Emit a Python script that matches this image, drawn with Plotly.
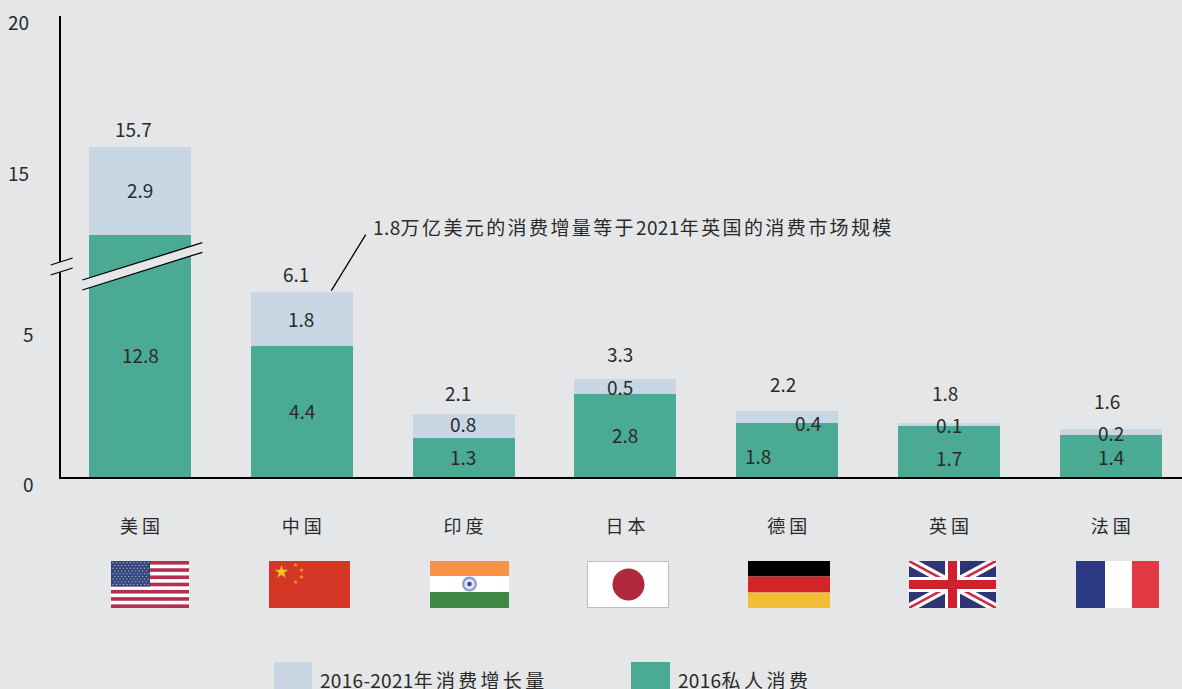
import base64
import math
import re
import plotly.graph_objects as go

# data
paises = ["美国", "中国", "印度", "日本", "德国", "英国", "法国"]
consumo_2016 = [12.8, 4.4, 1.3, 2.8, 1.8, 1.7, 1.4]
incremento = [2.9, 1.8, 0.8, 0.5, 0.4, 0.1, 0.2]
totales = [15.7, 6.1, 2.1, 3.3, 2.2, 1.8, 1.6]
ticks_abajo = [0, 5]
ticks_arriba = [15, 20]

nota = "1.8万亿美元的消费增量等于2021年英国的消费市场规模"
serie_inc = "2016-2021年消费增长量"
serie_base = "2016私人消费"

# pixel nudges of the value labels, the source places them by hand
shift_base = [(0, -68), (0, 1), (-1, 1), (0, 1), (-29, -5), (0, -6), (0, 0)]
shift_inc = [(0, 1), (-1, 1), (-1, 3), (-5, 0), (21, -5), (0, 0), (0, 0)]
shift_total = [(-7, 18), (-6, 19), (-6, 22), (-5, 25), (-4, 28), (-4, 31), (-4, 29)]
# y tick labels sit under their real position in the source: right edge, yshift
pos_tick = {0: (36, -6), 5: (36, -5), 15: (31, -4), 20: (31, -5)}

W, H = 1182, 689
FONDO = "#e5e6e8"
VERDE = "#4aaa93"
AZUL = "#c9d7e4"
TEXTO = "#2a2a2a"
FUENTE = "Noto Sans CJK SC"


def fx(px):
    return px / W


def fy(px):
    return 1 - px / H


def espaciar(texto, cjk, latin=0):
    # the source tracks han characters wider than digits
    partes = re.findall(r"[0-9.\-]+|[^0-9.\-]+", texto)
    salida = ""
    for p in partes:
        ls = latin if re.match(r"[0-9.\-]", p) else cjk
        salida += f'<span style="letter-spacing:{ls}px">{p}</span>'
    return salida


# ---- flags, small inline svgs ----
def svg(w, h, cuerpo):
    s = f'<svg xmlns="http://www.w3.org/2000/svg" viewBox="0 0 {w} {h}" preserveAspectRatio="none">{cuerpo}</svg>'
    return "data:image/svg+xml;base64," + base64.b64encode(s.encode()).decode()


def estrella(cx, cy, r, color):
    pts = []
    for i in range(10):
        rad = r if i % 2 == 0 else r * 0.4
        a = -math.pi / 2 + i * math.pi / 5
        pts.append(f"{cx + rad * math.cos(a):.2f},{cy + rad * math.sin(a):.2f}")
    return f'<polygon points="{" ".join(pts)}" fill="{color}"/>'


def bandera_usa():
    c = '<rect width="78" height="46" fill="#fff"/>'
    for i in range(0, 13, 2):
        c += f'<rect y="{i * 46 / 13:.2f}" width="78" height="{46 / 13:.2f}" fill="#b5304f"/>'
    c += '<rect width="39" height="25" fill="#34457c"/>'
    for f in range(9):
        for k in range(11 if f % 2 == 0 else 10):
            xx = 2 + k * 3.5 + (0 if f % 2 == 0 else 1.75)
            c += f'<circle cx="{xx}" cy="{1.8 + f * 2.65:.2f}" r="0.7" fill="#a9b0cc"/>'
    return svg(78, 46, c)


def bandera_china():
    c = '<rect width="81" height="47" fill="#d53727"/>'
    c += estrella(12.5, 11, 7, "#f6c52c")
    for xx, yy in [(26.7, 4), (32.5, 9), (32.5, 16), (26.7, 21)]:
        c += estrella(xx, yy, 2.4, "#f0a92a")
    return svg(81, 47, c)


def bandera_india():
    c = '<rect width="79" height="47" fill="#fff"/>'
    c += '<rect width="79" height="15" fill="#f99446"/>'
    c += '<rect y="31" width="79" height="16" fill="#3e8846"/>'
    c += '<circle cx="39.5" cy="23" r="7.5" fill="#8f9bd0"/><circle cx="39.5" cy="23" r="5.2" fill="#dfe2f0"/>'
    c += '<circle cx="39.5" cy="23" r="2.3" fill="#3f4a9c"/>'
    return svg(79, 47, c)


def bandera_japon():
    c = '<rect width="82" height="47" fill="#bdbdbd"/><rect x="1" y="1" width="80" height="45" fill="#fff"/>'
    c += '<circle cx="41.5" cy="23.5" r="16" fill="#b0283c"/>'
    return svg(82, 47, c)


def bandera_alemania():
    c = '<rect width="82" height="15.5" fill="#000"/>'
    c += '<rect y="15.5" width="82" height="16" fill="#d32527"/>'
    c += '<rect y="31.5" width="82" height="15.5" fill="#f3be37"/>'
    return svg(82, 47, c)


def bandera_uk():
    c = '<rect width="87" height="47" fill="#2e3474"/>'
    c += '<path d="M0 0L87 47M87 0L0 47" stroke="#fff" stroke-width="9"/>'
    c += '<path d="M0 0L87 47M87 0L0 47" stroke="#cf2a44" stroke-width="2.5"/>'
    c += '<path d="M43.5 0V47M0 23.5H87" stroke="#fff" stroke-width="15"/>'
    c += '<path d="M43.5 0V47M0 23.5H87" stroke="#d0212f" stroke-width="9"/>'
    return svg(87, 47, c)


def bandera_francia():
    c = '<rect width="83" height="47" fill="#fff"/>'
    c += '<rect width="29" height="47" fill="#2c3a84"/>'
    c += '<rect x="56" width="27" height="47" fill="#e23a45"/>'
    return svg(83, 47, c)


banderas = [
    (bandera_usa(), 111, 78),
    (bandera_china(), 269, 81),
    (bandera_india(), 430, 79),
    (bandera_japon(), 587, 82),
    (bandera_alemania(), 748, 82),
    (bandera_uk(), 909, 87),
    (bandera_francia(), 1076, 83),
]

# ---- figure ----
fig = go.Figure()

# the broken axis is two y axes on one x axis, the US bar runs through both
for eje in ["y", "y2"]:
    fig.add_trace(go.Bar(x=paises, y=consumo_2016, name=serie_base, marker_color=VERDE,
                         marker_line_width=0, yaxis=eje, xaxis="x"))
    fig.add_trace(go.Bar(x=paises, y=incremento, name=serie_inc, marker_color=AZUL,
                         marker_line_width=0, yaxis=eje, xaxis="x"))

anotaciones = []


def etiqueta(x, y, texto, dx=0, dy=0, yref="y"):
    anotaciones.append(dict(x=x, y=y, xref="x", yref=yref, text=texto, showarrow=False,
                            xshift=dx, yshift=dy, yanchor="middle", font=dict(size=19, color=TEXTO)))


CORTE = 12
for i, p in enumerate(paises):
    base = consumo_2016[i]
    inc = incremento[i]
    total = base + inc
    # labels of the US stack that sit above the break go on the upper axis
    etiqueta(p, base / 2, f"{base:.1f}", shift_base[i][0], shift_base[i][1])
    yref_sup = "y2" if base > CORTE else "y"
    etiqueta(p, base + inc / 2, f"{inc:.1f}", shift_inc[i][0], shift_inc[i][1], yref_sup)
    etiqueta(p, total, f"{totales[i]:.1f}", shift_total[i][0], shift_total[i][1], yref_sup)

for v in ticks_abajo + ticks_arriba:
    anotaciones.append(dict(x=fx(pos_tick[v][0]), y=v, xref="paper", yref="y" if v in ticks_abajo else "y2",
                            text=str(v), showarrow=False, xanchor="right", yanchor="middle", yshift=pos_tick[v][1],
                            font=dict(size=19, color=TEXTO)))

textos_fijos = [
    (371, 227, espaciar(nota, 2.4, 0.4)),
    (318, 679, espaciar(serie_inc, 3.3, 0.3)),
    (676, 679, espaciar(serie_base, 3.5, 0.3)),
]
for x0, y0, t in textos_fijos:
    anotaciones.append(dict(x=fx(x0), y=fy(y0), xref="paper", yref="paper", text=t, showarrow=False,
                            xanchor="left", yanchor="middle", font=dict(size=19, color=TEXTO)))


def linea(x0, y0, x1, y1, ancho=1.3):
    return dict(type="line", xref="paper", yref="paper", x0=fx(x0), y0=fy(y0), x1=fx(x1), y1=fy(y1),
                line=dict(color="#000000", width=ancho), layer="above")


def banda(x0, y0a, y0b, x1, y1a, y1b):
    d = f"M{fx(x0)},{fy(y0a)} L{fx(x1)},{fy(y1a)} L{fx(x1)},{fy(y1b)} L{fx(x0)},{fy(y0b)} Z"
    return dict(type="path", xref="paper", yref="paper", path=d, fillcolor=FONDO, line_width=0, layer="above")


formas = [
    # break across the US bar
    banda(82.3, 280, 290, 202.3, 242.7, 252.3),
    linea(82.3, 280, 202.3, 242.7),
    linea(82.3, 290, 202.3, 252.3),
    # break on the axis
    banda(50.7, 265, 275, 72.7, 258, 268),
    linea(50.7, 265, 72.7, 258),
    linea(50.7, 275, 72.7, 268),
    # leader line of the note
    linea(331.3, 290.7, 365.7, 234.7),
]

# legend swatches, taller than the native ones and cut by the page edge
for x0, x1, color in [(274, 312, AZUL), (631, 670, VERDE)]:
    formas.append(dict(type="rect", xref="paper", yref="paper", x0=fx(x0), x1=fx(x1), y0=0, y1=fy(662),
                       fillcolor=color, line_width=0))

imagenes = []
for src, x0, ancho in banderas:
    imagenes.append(dict(source=src, xref="paper", yref="paper", x=fx(x0), y=fy(561),
                         sizex=ancho / W, sizey=47 / H, sizing="stretch",
                         xanchor="left", yanchor="top", layer="above"))

# 161.8px per category, first bar centred on x=140
ESCALA = 161.8
fig.update_layout(
    width=W,
    height=H,
    margin=dict(l=0, r=0, t=0, b=0),
    paper_bgcolor=FONDO,
    plot_bgcolor=FONDO,
    barmode="stack",
    bargap=0.37,
    showlegend=False,
    font=dict(family=FUENTE, color=TEXTO, size=19),
    xaxis=dict(
        domain=[fx(61), 1],
        range=[-(140 - 61) / ESCALA, (W - 140) / ESCALA],
        type="category",
        categoryorder="array",
        categoryarray=paises,
        tickmode="array",
        tickvals=paises,
        ticktext=[f'<span style="letter-spacing:4px">{p[0]}</span>{p[1]}' for p in paises],
        showline=True,
        linecolor="#000000",
        linewidth=2,
        showgrid=False,
        ticks="",
        ticklabelstandoff=32,
        tickfont=dict(size=18, color=TEXTO),
        anchor="y",
    ),
    yaxis=dict(
        domain=[fy(477), fy(262)],
        range=[0, 215 / 29.8],
        showline=True,
        linecolor="#000000",
        linewidth=2,
        showgrid=False,
        zeroline=False,
        showticklabels=False,
        ticks="",
        anchor="x",
    ),
    yaxis2=dict(
        domain=[fy(262), fy(16)],
        range=[11.9, 20.02],
        showline=True,
        linecolor="#000000",
        linewidth=2,
        showgrid=False,
        zeroline=False,
        showticklabels=False,
        ticks="",
        anchor="x",
    ),
    annotations=anotaciones,
    shapes=formas,
    images=imagenes,
)

fig.write_html("out.html", config={"displayModeBar": False}, post_script="document.body.style.margin='0';")
